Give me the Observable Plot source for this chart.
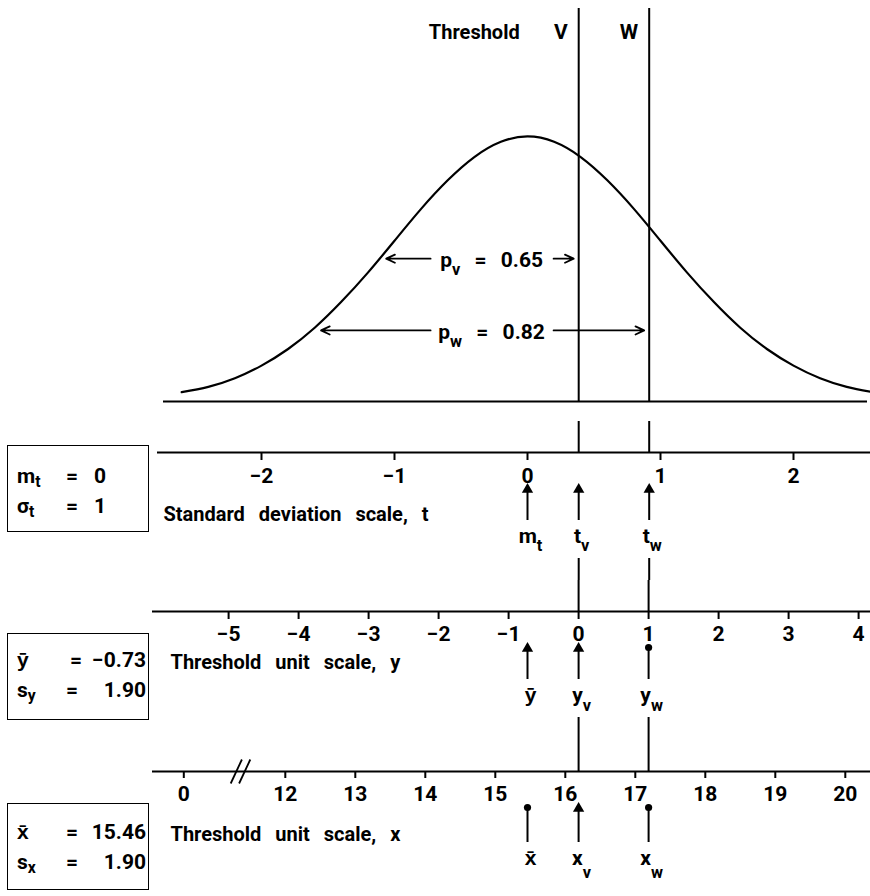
<!DOCTYPE html>
<html>
<head>
<meta charset="utf-8">
<script src="https://cdn.jsdelivr.net/npm/d3@7"></script>
<script src="https://cdn.jsdelivr.net/npm/@observablehq/plot@0.6"></script>
<style>
html,body{margin:0;padding:0;background:#fff;}
#chart{position:relative;width:870px;height:896px;overflow:hidden;background:#fff;font-family:Roboto,"Liberation Sans",sans-serif;font-weight:700;color:#000;}
#chart .sec{position:absolute;left:0;width:870px;}
#chart svg text{word-spacing:9px;}
.pbox{position:absolute;left:7px;width:142px;height:87px;border:1.6px solid #000;box-sizing:border-box;font-size:21px;}
.pbox span{position:absolute;line-height:20px;white-space:pre;}
.pbox sub{font-size:0.75em;position:relative;top:0.25em;vertical-align:baseline;line-height:0;}
</style>
</head>
<body>
<div id="chart"></div>
<script>
// ---------------- data ----------------
// normal curve on the standard deviation scale t
const curveT       = [-2.6,-2.4,-2.2,-2.0,-1.8,-1.6,-1.4,-1.2,-1.0,-0.8,-0.6,-0.4,-0.2,0,0.2,0.4,0.6,0.8,1.0,1.2,1.4,1.6,1.8,2.0,2.2,2.4,2.6];
const curveDensity = [0.014,0.022,0.035,0.054,0.079,0.111,0.150,0.194,0.242,0.290,0.333,0.368,0.391,0.399,0.391,0.368,0.333,0.290,0.242,0.194,0.150,0.111,0.079,0.054,0.035,0.022,0.014];

// thresholds
const thresholdNames = ["V", "W"];
const thresholdSubs  = ["v", "w"];
const thresholdP     = [0.65, 0.82];
const thresholdT     = [0.385, 0.915];   // standard deviation scale
const thresholdY     = [0, 1];           // threshold unit scale y
const thresholdX     = [16.19, 17.19];   // threshold unit scale x

// proportion arrows: row height (density units) and where they meet the curve
const pRowDensity = [0.215, 0.107];
const pLeftT      = [-1.07, -1.56];
const pLabelT     = -0.27;

// parameters
const mT = 0, sigmaT = 1;
const yBar = -0.73, sY = 1.90;
const xBar = 15.46, sX = 1.90;

// tick values
const tTicks = [-2, -1, 0, 1, 2];
const yTicks = [-5, -4, -3, -2, -1, 0, 1, 2, 3, 4];
const xTicks = [12, 13, 14, 15, 16, 17, 18, 19, 20];
const xBreakLabel = 0;        // first label, shown before the axis break
const xBreakDrawnAt = 10.55;  // where the "0" sits on the broken axis
const xBreakMarks = [11.30, 11.42];

// labels
const headerLabel = "Threshold";
const tScaleLabel = "Standard deviation scale, t";
const yScaleLabel = "Threshold unit scale, y";
const xScaleLabel = "Threshold unit scale, x";

// ---------------- helpers ----------------
const FONT = 'Roboto, "Liberation Sans", sans-serif';
const fmt = v => (v < 0 ? "\u2212" : "") + Math.abs(v);
const tDomain = [-527 / 133, (870 - 527) / 133];          // layout of the t axis
const yDomain = tDomain.map(t => yBar + sY * t);
const xDomain = tDomain.map(t => xBar + sX * t);

const thresholds = thresholdNames.map((n, i) => ({
  name: n, sub: thresholdSubs[i], p: thresholdP[i], t: thresholdT[i], y: thresholdY[i], x: thresholdX[i]
}));
const curve = curveT.map((t, i) => ({t, d: curveDensity[i]}));
const pRows = thresholds.map((th, i) => ({
  label: `p_{${th.sub}} = ${th.p.toFixed(2)}`, row: pRowDensity[i], left: pLeftT[i], right: th.t, c: pLabelT
}));

function rich(svg, shift) {
  d3.select(svg).selectAll("text").each(function () {
    const s = this.textContent;
    if (!s.includes("_{")) return;
    const parts = s.split(/(_\{[^}]*\})/).filter(p => p.length);
    this.textContent = "";
    let down = false;
    for (const p of parts) {
      const m = p.match(/^_\{(.*)\}$/);
      const ts = d3.select(this).append("tspan");
      if (m) { ts.text(m[1]).attr("dy", shift).attr("font-size", "0.78em"); down = true; }
      else { ts.text(p); if (down) { ts.attr("dy", -shift); down = false; } }
    }
  });
  return svg;
}

const chart = document.getElementById("chart");
function place(svg, top) {
  const d = document.createElement("div");
  d.className = "sec"; d.style.top = top + "px";
  d.appendChild(svg); chart.appendChild(d);
}
const base = (h) => ({
  width: 870, height: h, marginTop: 0, marginBottom: 0, marginLeft: 0, marginRight: 0,
  style: {fontFamily: FONT, fontSize: "20px", fontWeight: 700, background: "transparent", color: "black"}
});
const arrowOpts = {headLength: 8, headAngle: 50, strokeWidth: 1.8, stroke: "black"};

// vertical pointer: stem + filled head (triangle) or dot at the top
function pointers(data, tip, bottom) {
  const arrows = data.filter(d => d.head === "arrow");
  const dots = data.filter(d => d.head === "dot");
  return [
    Plot.ruleX(data, {x: "v", y1: tip + 4, y2: bottom, strokeWidth: 2}),
    Plot.dot(arrows, {x: "v", y: tip + 4, symbol: "triangle", r: 4.2, fill: "black", stroke: "none"}),
    Plot.dot(dots, {x: "v", y: tip + 3, r: 3.6, fill: "black", stroke: "none"})
  ];
}

// ---------------- A: the curve ----------------
const A = Plot.plot({
  ...base(410), marginTop: 8, marginBottom: 9,
  x: {domain: tDomain, axis: null},
  y: {domain: [0, 0.5916], axis: null},
  marks: [
    Plot.ruleY([0], {insetLeft: 163, insetRight: 3, strokeWidth: 2}),
    Plot.ruleX(thresholds, {x: "t", strokeWidth: 2}),
    Plot.line(curve, {x: "t", y: "d", curve: "natural", strokeWidth: 2.2}),
    Plot.text([thresholds[0]], {x: "t", text: () => headerLabel, frameAnchor: "top", dy: 30, dx: -59, textAnchor: "end", lineAnchor: "bottom", fontSize: 20}),
    Plot.text(thresholds, {x: "t", text: "name", frameAnchor: "top", dy: 30, dx: -11, textAnchor: "end", lineAnchor: "bottom", fontSize: 21}),
    Plot.text(pRows, {x: "c", y: "row", text: "label", lineAnchor: "middle", dy: 2, fontSize: 21}),
    Plot.arrow(pRows, {x1: "c", x2: "left", y1: "row", y2: "row", insetStart: 61, insetEnd: 1, ...arrowOpts}),
    Plot.arrow(pRows, {x1: "c", x2: "right", y1: "row", y2: "row", insetStart: 62, insetEnd: 5, ...arrowOpts})
  ]
});
place(rich(A, 8), 0);

// ---------------- B: standard deviation scale ----------------
const tMarkers = [
  {label: "m_{t}", v: mT, head: "arrow"},
  ...thresholds.map(th => ({label: `t_{${th.sub}}`, v: th.t, head: "arrow"}))
];
const B = Plot.plot({
  ...base(170),
  x: {domain: tDomain, axis: null},
  y: {domain: [0, 170], range: [0, 170], axis: null},
  marks: [
    Plot.ruleX(thresholds, {x: "t", y1: 11, y2: 42, strokeWidth: 2}),
    Plot.ruleY([42], {insetLeft: 157, strokeWidth: 2}),
    Plot.ruleX(tTicks, {x: d => d, y1: 42, y2: 50, strokeWidth: 2}),
    Plot.text(tTicks, {x: d => d, y: 72, text: fmt, lineAnchor: "bottom", fontSize: 21}),
    ...pointers(tMarkers, 75, 110),
    Plot.text(tMarkers, {x: "v", y: 132, text: "label", lineAnchor: "bottom", dx: 3, fontSize: 21}),
    Plot.ruleX(thresholds, {x: "t", y1: 148, y2: 170, strokeWidth: 2}),
    Plot.text([tScaleLabel], {frameAnchor: "left", y: 110, dx: 163, textAnchor: "start", lineAnchor: "bottom", fontSize: 20})
  ]
});
place(rich(B, 8), 410);

// ---------------- C: threshold unit scale y ----------------
const yMarkers = [
  {label: "\u0233", v: yBar, head: "arrow"},
  {label: `y_{${thresholds[0].sub}}`, v: thresholds[0].y, head: "arrow"},
  {label: `y_{${thresholds[1].sub}}`, v: thresholds[1].y, head: "dot"}
];
const C = Plot.plot({
  ...base(165),
  x: {domain: yDomain, axis: null},
  y: {domain: [0, 165], range: [0, 165], axis: null},
  marks: [
    Plot.ruleX(thresholds, {x: "y", y1: 0, y2: 31, strokeWidth: 2}),
    Plot.ruleY([31], {insetLeft: 152, strokeWidth: 2}),
    Plot.ruleX(yTicks, {x: d => d, y1: 31, y2: 39, strokeWidth: 2}),
    Plot.text(yTicks, {x: d => d, y: 60, text: fmt, lineAnchor: "bottom", fontSize: 21}),
    ...pointers(yMarkers, 64, 99),
    Plot.text(yMarkers, {x: "v", y: 121, text: "label", lineAnchor: "bottom", dx: 3, fontSize: 21}),
    Plot.ruleX(thresholds, {x: "y", y1: 137, y2: 165, strokeWidth: 2}),
    Plot.text([yScaleLabel], {frameAnchor: "left", y: 88, dx: 170, textAnchor: "start", lineAnchor: "bottom", fontSize: 20})
  ]
});
place(rich(C, 9), 580);

// ---------------- D: threshold unit scale x ----------------
const xTickItems = [{v: xBreakDrawnAt, label: fmt(xBreakLabel)}, ...xTicks.map(v => ({v, label: fmt(v)}))];
const xMarkers = [
  {label: "x\u0304", v: xBar, head: "dot"},
  {label: `x_{${thresholds[0].sub}}`, v: thresholds[0].x, head: "arrow"},
  {label: `x_{${thresholds[1].sub}}`, v: thresholds[1].x, head: "dot"}
];
const D = Plot.plot({
  ...base(151),
  x: {domain: xDomain, axis: null},
  y: {domain: [0, 151], range: [0, 151], axis: null},
  marks: [
    Plot.ruleX(thresholds, {x: "x", y1: 0, y2: 26, strokeWidth: 2}),
    Plot.ruleY([26], {insetLeft: 152, strokeWidth: 2}),
    Plot.link(xBreakMarks, {x1: d => d - 0.08, x2: d => d + 0.08, y1: 38, y2: 14, strokeWidth: 1.8}),
    Plot.ruleX(xTickItems, {x: "v", y1: 26, y2: 33, strokeWidth: 2}),
    Plot.text(xTickItems, {x: "v", y: 55, text: "label", lineAnchor: "bottom", fontSize: 21}),
    ...pointers(xMarkers, 59, 97),
    Plot.text(xMarkers, {x: "v", y: 119, text: "label", lineAnchor: "bottom", dx: 3, fontSize: 21}),
    Plot.text([xScaleLabel], {frameAnchor: "left", y: 95, dx: 170, textAnchor: "start", lineAnchor: "bottom", fontSize: 20})
  ]
});
place(rich(D, 13), 745);

// ---------------- parameter boxes ----------------
const boxes = [
  {top: 445, base: [39, 69], align: "left",  rows: [{sym: "m", sub: "t", val: fmt(mT)}, {sym: "\u03C3", sub: "t", val: fmt(sigmaT)}]},
  {top: 633, base: [35, 65], align: "right", rows: [{sym: "\u0233", sub: "", val: fmt(yBar)}, {sym: "s", sub: "y", val: sY.toFixed(2)}]},
  {top: 803, base: [37, 67], align: "right", rows: [{sym: "x\u0304", sub: "", val: xBar.toFixed(2)}, {sym: "s", sub: "x", val: sX.toFixed(2)}]}
];
for (const b of boxes) {
  const box = document.createElement("div");
  box.className = "pbox"; box.style.top = b.top + "px";
  b.rows.forEach((r, i) => {
    const top = b.base[i] - 17 - 1.6;
    const s = document.createElement("span");
    s.style.left = "9px"; s.style.top = top + "px";
    s.textContent = r.sym;
    if (r.sub) { const sub = document.createElement("sub"); sub.textContent = r.sub; s.appendChild(sub); }
    box.appendChild(s);
    const eq = document.createElement("span");
    eq.style.left = (r.val.startsWith("\u2212") ? 62 : 58) + "px";
    eq.style.top = top + "px"; eq.textContent = "=";
    box.appendChild(eq);
    const v = document.createElement("span");
    v.style.top = top + "px"; v.textContent = r.val;
    if (b.align === "right") v.style.right = "2px"; else v.style.left = "86px";
    box.appendChild(v);
  });
  chart.appendChild(box);
}
</script>
</body>
</html>
